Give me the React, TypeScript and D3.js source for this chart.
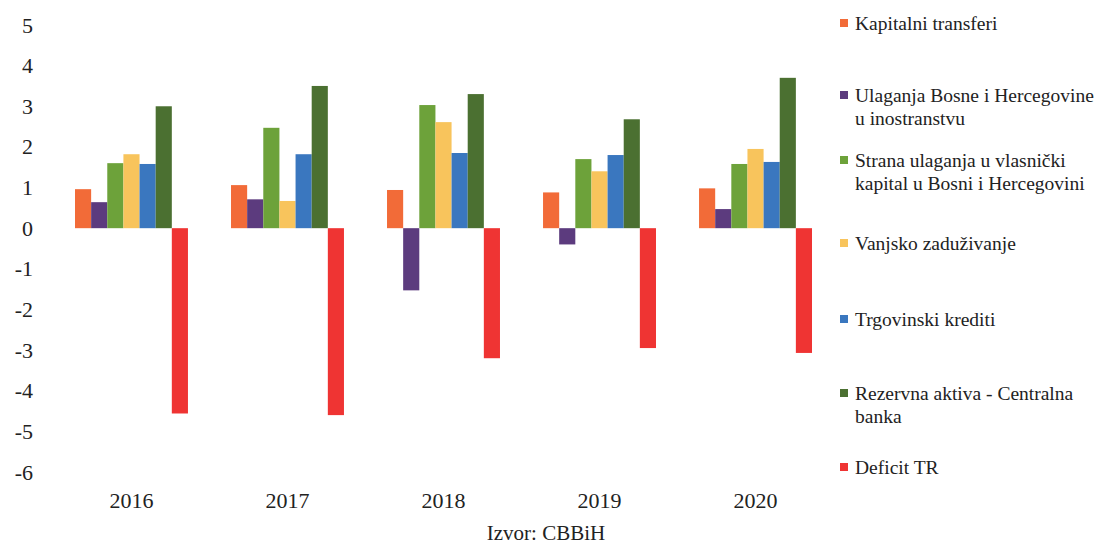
import React from "react";
import * as d3 from "d3";

const years = ["2016", "2017", "2018", "2019", "2020"];
const seriesNames = [
  "Kapitalni transferi",
  "Ulaganja Bosne i Hercegovine u inostranstvu",
  "Strana ulaganja u vlasnički kapital u Bosni i Hercegovini",
  "Vanjsko zaduživanje",
  "Trgovinski krediti",
  "Rezervna aktiva - Centralna banka",
  "Deficit TR",
];
const kapitalni = [0.96, 1.06, 0.94, 0.88, 0.98];
const ulaganjaBiH = [0.64, 0.71, -1.53, -0.4, 0.47];
const stranaUlaganja = [1.6, 2.47, 3.03, 1.7, 1.58];
const vanjsko = [1.82, 0.67, 2.61, 1.4, 1.95];
const trgovinski = [1.58, 1.82, 1.85, 1.8, 1.63];
const rezervna = [3.0, 3.5, 3.3, 2.68, 3.7];
const deficit = [-4.56, -4.6, -3.2, -2.95, -3.07];
const seriesValues = [kapitalni, ulaganjaBiH, stranaUlaganja, vanjsko, trgovinski, rezervna, deficit];
const colors = ["#F26B38", "#5C3B7E", "#6DA23A", "#F8C45C", "#3A77BF", "#4B7031", "#EF3433"];
const yTicks = [5, 4, 3, 2, 1, 0, -1, -2, -3, -4, -5, -6];
const legendLines = [
  ["Kapitalni transferi"],
  ["Ulaganja Bosne i Hercegovine", "u inostranstvu"],
  ["Strana ulaganja u vlasnički", "kapital u Bosni i Hercegovini"],
  ["Vanjsko zaduživanje"],
  ["Trgovinski krediti"],
  ["Rezervna aktiva - Centralna", "banka"],
  ["Deficit TR"],
];
const legendY = [23, 95, 160, 243, 319, 393, 467];
const source = "Izvor: CBBiH";

const W = 1102;
const H = 545;
const font = "'Liberation Serif', 'Times New Roman', Times, serif";

export default function App() {
  const y = d3.scaleLinear().domain([-6, 5]).range([472, 25]);
  const x0 = d3.scaleBand<string>().domain(years).range([75, 812]).paddingInner(0.276).paddingOuter(0);
  const x1 = d3
    .scaleBand<number>()
    .domain(d3.range(seriesNames.length))
    .range([0, x0.bandwidth()])
    .padding(0);

  return (
    <div style={{ fontFamily: font }}>
      <svg
        width={W}
        height={H}
        style={{ position: "absolute", left: 0, top: 0, background: "#fff" }}
      >
        <g fontFamily={font}>
          {yTicks.map((t) => (
            <text key={t} x={33} y={y(t)} textAnchor="end" dominantBaseline="central" fontSize={22} fill="#222">
              {t}
            </text>
          ))}
          {years.map((yr, i) => (
            <g key={yr} transform={`translate(${x0(yr)},0)`}>
              {seriesValues.map((vals, s) => {
                const v = vals[i];
                const top = y(Math.max(0, v));
                const h = Math.abs(y(v) - y(0));
                return <rect key={s} x={x1(s)} y={top} width={x1.bandwidth()} height={h} fill={colors[s]} />;
              })}
            </g>
          ))}
          {years.map((yr) => (
            <text
              key={yr}
              x={(x0(yr) as number) + x0.bandwidth() / 2}
              y={500}
              textAnchor="middle"
              dominantBaseline="central"
              fontSize={22}
              fill="#222"
            >
              {yr}
            </text>
          ))}
          <text x={546} y={540} textAnchor="middle" fontSize={21} fill="#222">
            {source}
          </text>
          {legendLines.map((lines, i) => (
            <g key={i}>
              <rect x={840} y={legendY[i] - 4} width={8} height={8} fill={colors[i]} />
              {lines.map((ln, j) => (
                <text
                  key={j}
                  x={855}
                  y={legendY[i] + j * 23}
                  dominantBaseline="central"
                  fontSize={19.5}
                  fill="#222"
                >
                  {ln}
                </text>
              ))}
            </g>
          ))}
        </g>
      </svg>
    </div>
  );
}
